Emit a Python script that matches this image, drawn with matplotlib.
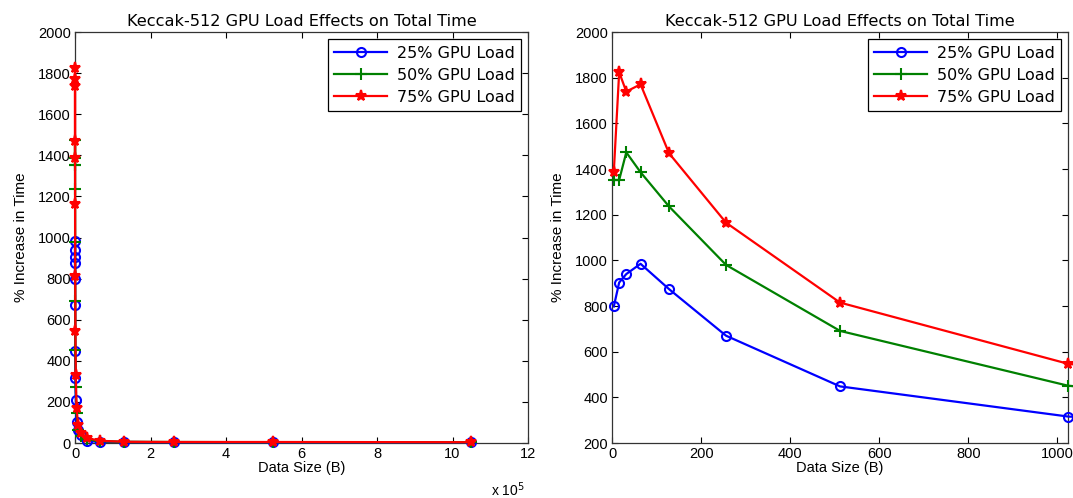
import matplotlib
matplotlib.use("Agg")
import matplotlib.pyplot as plt
from matplotlib.ticker import FuncFormatter

plt.rcParams['font.family'] = ['Liberation Sans', 'DejaVu Sans']

# Data sizes (bytes)
sizes = [4, 16, 32, 64, 128, 256, 512, 1024, 2048, 4096, 8192, 16384,
         32768, 65536, 131072, 262144, 524288, 1048576]

load25 = [798, 903, 940, 985, 874, 670, 448, 316, 209, 104, 62, 39,
          9, 6, 5, 4, 3, 3]
load50 = [1352, 1352, 1473, 1386, 1236, 980, 691, 451, 274, 146, 63, 36,
          18, 9, 6, 5, 4, 4]
load75 = [1389, 1824, 1739, 1771, 1469, 1165, 815, 547, 330, 170, 88, 49,
          24, 11, 6, 5, 5, 4]

labels = ['25% GPU Load', '50% GPU Load', '75% GPU Load']
title = 'Keccak-512 GPU Load Effects on Total Time'
xlabel = 'Data Size (B)'
ylabel = '% Increase in Time'

left_xticks = [0, 2e5, 4e5, 6e5, 8e5, 10e5, 12e5]
left_yticks = [0, 200, 400, 600, 800, 1000, 1200, 1400, 1600, 1800, 2000]
right_xticks = [0, 200, 400, 600, 800, 1000]
right_yticks = [200, 400, 600, 800, 1000, 1200, 1400, 1600, 1800, 2000]

colors = ['#0000ff', '#008000', '#ff0000']
markers = ['o', '+', '*']
msizes = [6.5, 8.5, 8]

wide = ['DejaVu Sans']

fig = plt.figure(figsize=(10.73, 4.98), dpi=100)
ax1 = fig.add_axes([0.0699, 0.1104, 0.4222, 0.8253])
ax2 = fig.add_axes([0.5704, 0.1104, 0.4250, 0.8253])

series = [load25, load50, load75]

def draw(ax):
    for vals, c, m, ms, lab in zip(series, colors, markers, msizes, labels):
        ax.plot(sizes, vals, color=c, marker=m, markersize=ms, linewidth=1.6,
                markerfacecolor=('none' if m == 'o' else c),
                markeredgewidth=1.5, label=lab, clip_on=False, zorder=3)
    ax.set_title(title, fontsize=11.6, pad=4, family=wide)
    ax.set_xlabel(xlabel, fontsize=10.5, labelpad=0)
    ax.set_ylabel(ylabel, fontsize=11, labelpad=7)
    ax.tick_params(direction='in', top=True, right=True, labelsize=10.5,
                   length=4, width=0.8, pad=3)
    for s in ax.spines.values():
        s.set_linewidth(0.9)
        s.set_color('#333333')
        s.set_zorder(2)
    leg = ax.legend(loc='upper right', prop={'family': wide, 'size': 11.5},
                    fancybox=False, framealpha=1, edgecolor='black',
                    borderpad=0.4, handlelength=3.3, handletextpad=0.6,
                    labelspacing=0.45, borderaxespad=0.45)
    leg.get_frame().set_linewidth(0.9)
    leg.set_zorder(5)

draw(ax1)
ax1.set_xlim(0, 12e5)
ax1.set_ylim(0, 2000)
ax1.set_xticks(left_xticks)
ax1.set_yticks(left_yticks)
ax1.xaxis.set_major_formatter(FuncFormatter(lambda v, p: '%g' % (v / 1e5)))
ax1.text(0.955, -0.092, r'x 10$^5$', transform=ax1.transAxes, ha='center',
         va='top', fontsize=10)

draw(ax2)
ax2.set_xlim(0, 1024)
ax2.set_ylim(200, 2000)
ax2.set_xticks(right_xticks)
ax2.set_yticks(right_yticks)

fig.savefig('out.png', dpi=100)
